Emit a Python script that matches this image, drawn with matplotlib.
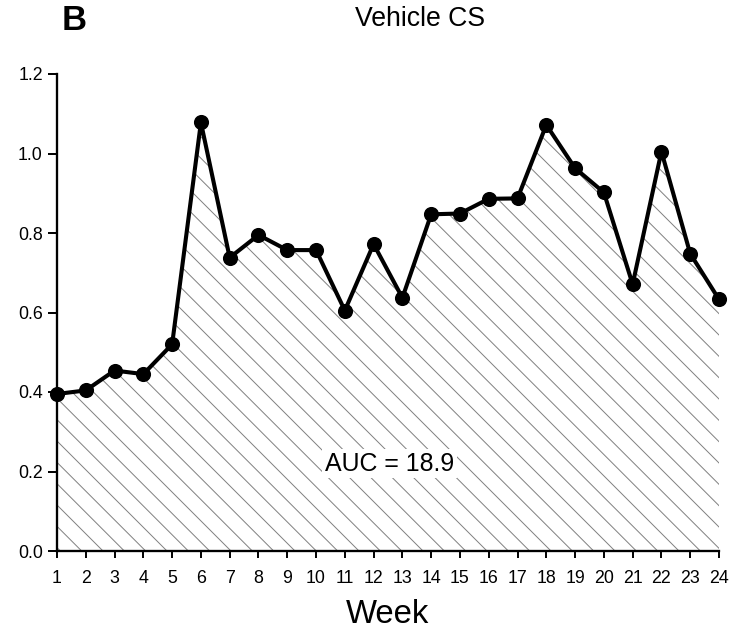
#!/usr/bin/env python3
"""Weekly vehicle CS values with hatched area under the curve (panel B)."""

import matplotlib
matplotlib.use("Agg")
import matplotlib.pyplot as plt

weeks = list(range(1, 25))
values = [0.395, 0.404, 0.454, 0.445, 0.520, 1.078, 0.738, 0.795, 0.757, 0.757,
          0.605, 0.772, 0.637, 0.847, 0.849, 0.886, 0.887, 1.072, 0.963, 0.902,
          0.671, 1.005, 0.748, 0.633]
y_ticks = [0.0, 0.2, 0.4, 0.6, 0.8, 1.0, 1.2]
y_tick_labels = ["0.0", "0.2", "0.4", "0.6", "0.8", "1.0", "1.2"]
panel_letter = "B"
title = "Vehicle CS"
auc_label = "AUC = 18.9"
x_label = "Week"

# hatch spacing is tied to dpi, so pick dpi to match the reference spacing
DPI = 128
plt.rcParams["font.family"] = ["Liberation Sans", "DejaVu Sans"]
plt.rcParams["hatch.linewidth"] = 0.55

fig = plt.figure(figsize=(731 / DPI, 631 / DPI), dpi=DPI)
ax = fig.add_axes([57 / 731, 1 - 551 / 631, (719 - 57) / 731, (551 - 74) / 631])

ax.fill_between(weeks, 0, values, facecolor="white", edgecolor="#808080",
                hatch="\\\\", linewidth=0, zorder=1)
ax.plot(weeks, values, color="black", linewidth=2.3, marker="o",
        markersize=7.5, clip_on=False, zorder=3)

ax.set_xlim(1, 24)
ax.set_ylim(0, 1.2)
ax.set_xticks(weeks)
ax.set_xticklabels([str(w) for w in weeks])
ax.set_yticks(y_ticks)
ax.set_yticklabels(y_tick_labels)

for side in ("top", "right"):
    ax.spines[side].set_visible(False)
for side in ("left", "bottom"):
    ax.spines[side].set_linewidth(1.3)
ax.tick_params(axis="y", direction="out", length=5, width=1.1, labelsize=10, pad=3)
ax.tick_params(axis="x", direction="out", length=4, width=1.1, labelsize=10, pad=6.5)

ax.text(12.55, 0.22, auc_label, ha="center", va="center", fontsize=14,
        bbox=dict(facecolor="white", edgecolor="none", pad=1.5), zorder=4)

ax.set_xlabel(x_label, fontsize=18.5, labelpad=7)
fig.text(420 / 731, 1 - 19 / 631, title, ha="center", va="center", fontsize=15)
fig.text(74 / 731, 1 - 21 / 631, panel_letter, ha="center", va="center",
         fontsize=19.5, fontweight="bold")

fig.savefig("out.png", dpi=DPI)
